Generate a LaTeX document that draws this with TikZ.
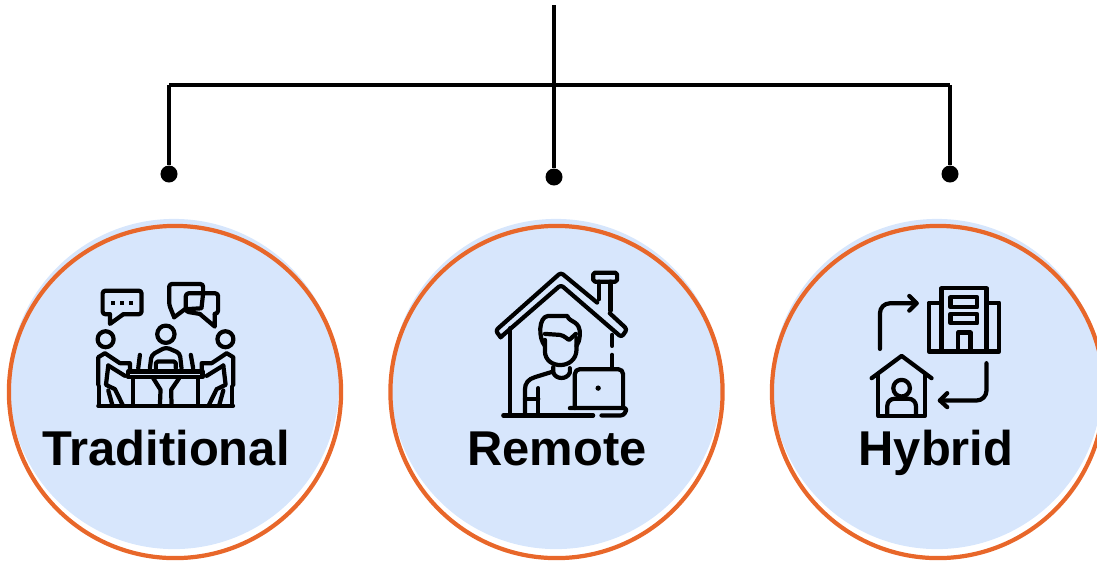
\documentclass[tikz,border=0pt]{standalone}
\usepackage{fontspec}
\setmainfont{Liberation Sans}
\usetikzlibrary{positioning}
\definecolor{discblue}{HTML}{D7E6FC}
\definecolor{ringorange}{HTML}{E8672A}

% one side figure of the meeting table, mirrored for the other side
\newcommand{\tableperson}{
    \draw (55,345) -- (55,262) -- (75,250) -- (120,280) -- (150,280) -- (150,300);
    \draw (85,287) -- (135,318);
    \draw (85,287) -- (78,345) -- (105,358) -- (128,405);
    \draw (58,350) -- (58,405);
    \draw (97,405) -- (85,362);
}

\begin{document}
\begin{tikzpicture}[x=0.01cm, y=-0.01cm,
    disc/.style ={circle, fill=discblue, draw=none, minimum size=3.3cm, inner sep=0pt},
    ring/.style ={circle, draw=ringorange, line width=1.2pt, minimum size=3.32cm, inner sep=0pt},
    dot/.style ={circle, fill=black, minimum size=0.17cm, inner sep=0pt},
    title/.style ={font=\fontsize{13.9}{16}\selectfont\bfseries, text=black, inner sep=0pt, anchor=base},
    line/.style ={draw, black, line width=1.15pt},
    icon/.style ={line width=1.2pt, line join=round, line cap=round, black}]

    \clip (0,0) rectangle (1097,560);

    % Place nodes
    \node [disc] (discT) at (174,384) {};
    \node [disc] (discR) at (556,384) {};
    \node [disc] (discH) at (937,384) {};
    \node [ring] (ringT) at (175,392) {};
    \node [ring] (ringR) at (556.5,392) {};
    \node [ring] (ringH) at (938,392) {};
    \node [title] (traditional) at (166,465) {Traditional};
    \node [title] (remote) at (557,465) {Remote};
    \node [title] (hybrid) at (936,465) {Hybrid};

    \node [dot] (dotT) at (169,174) {};
    \node [dot] (dotR) at (554,177) {};
    \node [dot] (dotH) at (950,174) {};
    \coordinate (top) at (554,5);
    \coordinate (barT) at (169,85);
    \coordinate (barH) at (950,85);

    \begin{scope}[every path/.style=line]
    % paths of the tree
    \path (top) -- (dotR);
    \path (barT) -- (barH);
    \path (barT) -- (dotT);
    \path (barH) -- (dotH);
    \end{scope}

    % meeting icon
    \begin{scope}[shift={(80,270)}, x=0.00333cm, y=-0.00333cm, icon]
    \draw [rounded corners=0.8pt] (90,133) -- (68,133) -- (68,62) -- (185,62) -- (185,133) -- (130,133);
    \draw (90,133) -- (90,162) -- (130,133);
    \foreach \dx in {100,127,153} \fill (\dx-6,92) rectangle (\dx+6,104);
    \draw [rounded corners=0.8pt] (283,142) -- (268,105) -- (268,42) -- (370,42) -- (370,70);
    \draw (283,142) -- (315,118) -- (365,115) -- (370,70);
    \draw [rounded corners=0.8pt] (360,132) -- (318,125) -- (318,70) -- (415,70) -- (415,130) -- (405,132);
    \draw (360,132) -- (405,170) -- (405,132);
    \draw (77,208) circle (24);
    \draw (258,193) circle (26);
    \draw (437,208) circle (24);
    \draw [rounded corners=1pt] (210,295) -- (215,255) -- (258,232) -- (300,250) -- (305,295);
    \draw [rounded corners=0.5pt] (228,295) -- (228,275) -- (288,275) -- (288,295);
    \draw (180,255) -- (175,295);
    \draw (333,255) -- (340,295);
    \draw (145,305) rectangle (368,322);
    \draw (55,408) -- (460,408);
    \draw (160,322) -- (160,408);
    \draw (355,322) -- (355,408);
    \draw (220,325) -- (242,360) -- (240,408);
    \draw (298,325) -- (274,360) -- (275,408);
    \tableperson
    \begin{scope}[xshift=1.715cm, xscale=-1]
    \tableperson
    \end{scope}
    \end{scope}

    % home office icon
    \begin{scope}[shift={(480,260)}, x=0.00333cm, y=-0.00333cm, icon]
    \draw [rounded corners=0.8pt] (62,232) -- (47,212) -- (243,38) -- (352,128);
    \draw [rounded corners=0.8pt] (390,160) -- (442,208) -- (425,232) -- (243,75) -- (62,232);
    \draw [rounded corners=0.5pt] (340,38) rectangle (412,65);
    \draw (358,65) -- (358,118);
    \draw (392,65) -- (392,152);
    \draw (90,205) -- (90,465);
    \draw (397,225) -- (397,258);
    \draw (397,285) -- (397,322);
    \draw (70,467) -- (340,467);
    \draw [rounded corners=1.4pt] (285,445) -- (285,328) -- (430,328) -- (430,445);
    \draw [rounded corners=0.8pt] (270,445) -- (442,445) -- (432,467) -- (365,467);
    \fill (355,385) circle (8);
    % person
    \draw (195,240) -- (195,275) .. controls (197,330) and (288,330) .. (290,270) -- (290,235);
    \draw (195,258) .. controls (175,235) and (175,170) .. (205,168) -- (262,168)
        .. controls (270,190) and (302,180) .. (300,225) .. controls (298,245) and (295,250) .. (290,258);
    \draw (195,222) -- (240,225) .. controls (255,228) and (262,238) .. (268,240) .. controls (275,235) and (280,228) .. (288,222);
    \draw (220,322) -- (220,338) .. controls (228,360) and (262,360) .. (270,338) -- (270,325);
    \draw (220,335) -- (165,352) .. controls (145,358) and (135,370) .. (135,390) -- (135,460);
    \draw (175,385) -- (175,460);
    \draw (135,417) -- (175,417);
    \end{scope}

    % hybrid icon
    \begin{scope}[shift={(860,280)}, x=0.00333cm, y=-0.00333cm, icon]
    \draw [rounded corners=2.8pt] (60,207) -- (60,70) -- (170,70);
    \draw (148,48) -- (170,70) -- (148,92);
    \draw (245,215) -- (245,25) -- (380,25) -- (380,215);
    \draw (245,68) -- (207,68) -- (207,215) -- (418,215) -- (418,68) -- (380,68);
    \draw (272,52) rectangle (352,82);
    \draw (272,102) rectangle (352,130);
    \draw (295,215) -- (295,158) -- (332,158) -- (332,215);
    \draw [rounded corners=2.8pt] (380,250) -- (380,362) -- (240,362);
    \draw (262,340) -- (240,362) -- (262,382);
    \draw (35,295) -- (125,228) -- (215,295);
    \draw (55,282) -- (55,408) -- (195,408) -- (195,282);
    \draw (125,325) circle (25);
    \draw [rounded corners=2pt] (82,405) -- (82,357) -- (168,357) -- (168,405);
    \end{scope}

\end{tikzpicture}
\end{document}
